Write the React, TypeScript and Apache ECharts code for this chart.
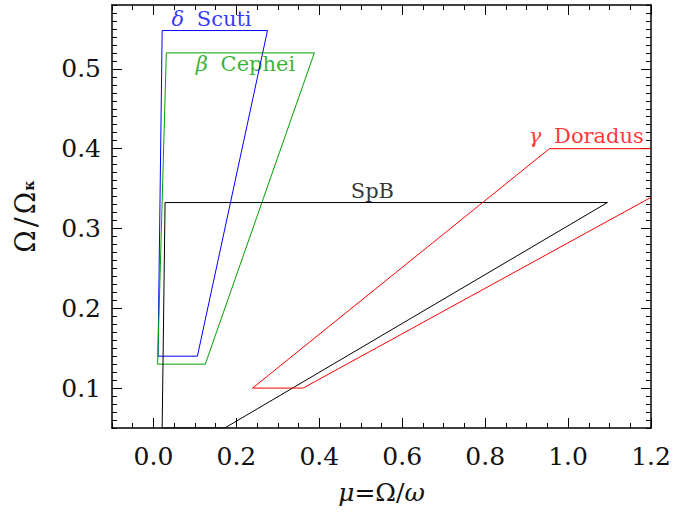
import React, { useEffect, useRef } from 'react';
import * as echarts from 'echarts';

const X_MIN = -0.1;
const X_MAX = 1.2;
const Y_MIN = 0.05;
const Y_MAX = 0.58;
const xMajorTicks = [0, 0.2, 0.4, 0.6, 0.8, 1.0, 1.2];
const yMajorTicks = [0.1, 0.2, 0.3, 0.4, 0.5];

const deltaScuti = [[0.011, 0.14], [0.021, 0.548], [0.275, 0.548], [0.106, 0.14], [0.011, 0.14]];
const betaCephei = [[0.010, 0.13], [0.031, 0.52], [0.388, 0.52], [0.125, 0.13], [0.010, 0.13]];
const spb = [[0.021, 0.05], [0.028, 0.3325], [1.095, 0.3325], [0.172, 0.05], [0.021, 0.05]];
const gammaDoradus = [[1.2, 0.339], [0.361, 0.10], [0.239, 0.10], [0.955, 0.40], [1.2, 0.40]];

const regionNames = ['δ Scuti', 'β Cephei', 'SpB', 'γ Doradus'];
const labelPositions = [[0.14, 0.562], [0.222, 0.506], [0.528, 0.347], [1.044, 0.416]];
const regionColors = ['#0000ff', '#00a000', '#000000', '#ff0000'];

const FONT = 'DejaVu Serif';

export default function App() {
  const ref = useRef<HTMLDivElement>(null);
  useEffect(() => {
    document.body.style.margin = '0';
    const chart = echarts.init(ref.current!, null, { renderer: 'svg' });
    const axisLine = { show: true, onZero: false, lineStyle: { color: '#000', width: 1.5 } };
    const hiddenLine = { show: false, onZero: false };
    const tickStyle = { color: '#000', width: 1 };
    const xAxisBase = { type: 'value', min: X_MIN, max: X_MAX, splitLine: { show: false } };
    const yAxisBase = { type: 'value', min: Y_MIN, max: Y_MAX, splitLine: { show: false } };

    const series: any[] = [deltaScuti, betaCephei, spb, gammaDoradus].map((d, i) => ({
      type: 'line',
      data: d,
      symbol: 'none',
      clip: true,
      lineStyle: { color: regionColors[i], width: 1 },
      xAxisIndex: 0,
      yAxisIndex: 0,
    }));

    series.push({
      type: 'scatter',
      symbolSize: 0,
      xAxisIndex: 0,
      yAxisIndex: 0,
      data: regionNames.map((name, i) => {
        const first = name.charAt(0);
        const isGreek = /[α-ω]/.test(first);
        const text = isGreek ? `{g|${first}}{t|${name.slice(1)}}` : `{t|${name}}`;
        return {
          value: labelPositions[i],
          label: {
            show: true,
            position: 'inside',
            formatter: text,
            rich: {
              g: { fontFamily: FONT, fontStyle: 'italic', fontSize: 21, color: regionColors[i], padding: [0, 6, 0, 0] },
              t: { fontFamily: FONT, fontSize: 21, color: regionColors[i] },
            },
          },
        };
      }),
    });

    chart.setOption({
      animation: false,
      grid: { left: 112, top: 5, right: 24, bottom: 84, containLabel: false },
      xAxis: [
        {
          ...xAxisBase,
          position: 'bottom',
          axisLine,
          axisTick: { show: true, inside: true, length: 10, customValues: xMajorTicks, lineStyle: tickStyle },
          axisLabel: {
            customValues: xMajorTicks,
            formatter: (v: number) => v.toFixed(1),
            fontFamily: FONT,
            fontSize: 25,
            color: '#111',
            margin: 16,
          },
          name: '{i|μ}{r|=Ω/}{i|ω}',
          nameLocation: 'middle',
          nameGap: 52,
          nameTextStyle: {
            rich: {
              i: { fontFamily: FONT, fontStyle: 'italic', fontSize: 25, color: '#111' },
              r: { fontFamily: FONT, fontSize: 25, color: '#111' },
            },
          },
        },
        {
          ...xAxisBase,
          position: 'bottom',
          interval: 0.05,
          axisLine: hiddenLine,
          axisTick: { show: true, inside: true, length: 5, lineStyle: tickStyle },
          axisLabel: { show: false },
        },
        {
          ...xAxisBase,
          position: 'top',
          axisLine,
          axisTick: { show: true, inside: true, length: 10, customValues: xMajorTicks, lineStyle: tickStyle },
          axisLabel: { show: false },
        },
        {
          ...xAxisBase,
          position: 'top',
          interval: 0.05,
          axisLine: hiddenLine,
          axisTick: { show: true, inside: true, length: 5, lineStyle: tickStyle },
          axisLabel: { show: false },
        },
      ],
      yAxis: [
        {
          ...yAxisBase,
          position: 'left',
          axisLine,
          axisTick: { show: true, inside: true, length: 10, customValues: yMajorTicks, lineStyle: tickStyle },
          axisLabel: {
            customValues: yMajorTicks,
            formatter: (v: number) => v.toFixed(1),
            fontFamily: FONT,
            fontSize: 25,
            color: '#111',
            margin: 11,
          },
          name: '{r|Ω}{sl|/}{r|Ω}{s|κ}',
          nameLocation: 'middle',
          nameGap: 72,
          nameTextStyle: {
            rich: {
              r: { fontFamily: FONT, fontSize: 27, color: '#111' },
              sl: { fontFamily: FONT, fontSize: 30, color: '#111', padding: [0, 3, 0, 3] },
              s: { fontFamily: FONT, fontSize: 14, fontWeight: 'bold', color: '#111', padding: [8, 0, 0, 1] },
            },
          },
        },
        {
          ...yAxisBase,
          position: 'left',
          interval: 0.01,
          axisLine: hiddenLine,
          axisTick: { show: true, inside: true, length: 5, lineStyle: tickStyle },
          axisLabel: { show: false },
        },
        {
          ...yAxisBase,
          position: 'right',
          axisLine,
          axisTick: { show: true, inside: true, length: 10, customValues: yMajorTicks, lineStyle: tickStyle },
          axisLabel: { show: false },
        },
        {
          ...yAxisBase,
          position: 'right',
          interval: 0.01,
          axisLine: hiddenLine,
          axisTick: { show: true, inside: true, length: 5, lineStyle: tickStyle },
          axisLabel: { show: false },
        },
      ],
      series,
    });
    return () => chart.dispose();
  }, []);
  return <div ref={ref} style={{ width: 675, height: 512 }} />;
}
